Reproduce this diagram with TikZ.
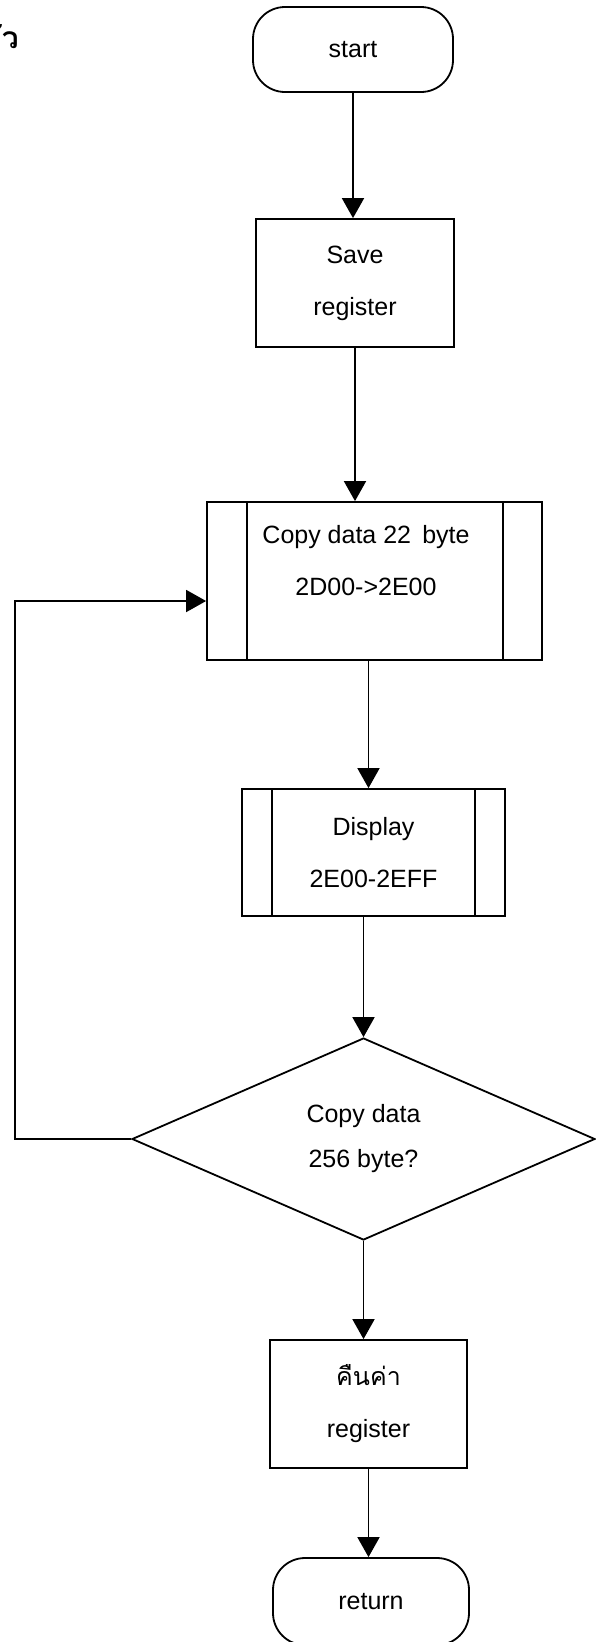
\documentclass[tikz,border=0pt]{standalone}
\usepackage{fontspec}
\setmainfont{Liberation Sans}
\newfontfamily\thaifont[Script=Thai]{Loma}
\usetikzlibrary{shapes.geometric,arrows.meta,calc}
\begin{document}
\begin{tikzpicture}[x=1pt,y=-1pt,
  every node/.style={font=\fontsize{25}{52}\selectfont, inner sep=0pt},
  ln/.style={line width=1.8pt},
  term/.style={draw, ln, rounded corners=32pt, align=center},
  proc/.style={draw, ln, align=center},
  dec/.style={draw, ln, diamond, align=center},
  arr/.style={ln, -{Triangle[length=20pt,width=22pt]}},
  lbl/.style={align=center}]
\useasboundingbox (0,0) rectangle (595,1642);

% header fragment
\node[anchor=base east, font=\fontsize{30}{36}\selectfont\thaifont\bfseries] (hd) at (19,48) {ัว};

% nodes
\node[term, minimum width=200pt, minimum height=85pt] (start) at (353,49.5) {\raisebox{-9pt}{start}};
\node[proc, minimum width=198pt, minimum height=128pt] (save) at (355,283) {Save\\register};
\node[proc, minimum width=335pt, minimum height=158pt] (copy) at (374.5,581) {};
\node[lbl] (copytxt) at (366,561) {Copy data 22\ \,byte\\2D00->2E00};
\node[proc, minimum width=263pt, minimum height=127pt] (disp) at (373.5,852.5) {Display\\2E00-2EFF};
\node[dec, minimum width=463pt, minimum height=202pt, font=\fontsize{25}{45}\selectfont] (dia) at (363.5,1139) {Copy data\\256 byte?};
\node[proc, minimum width=197pt, minimum height=128pt] (rest) at (368.5,1404) {{\thaifont คืนค่า}\\register};
\node[term, minimum width=196pt, minimum height=87pt] (ret) at (371,1601.5) {return};

% predefined-process side bars
\draw[ln] ([xshift=41pt]copy.north west) -- ([xshift=41pt]copy.south west);
\draw[ln] ([xshift=-40pt]copy.north east) -- ([xshift=-40pt]copy.south east);
\draw[ln] ([xshift=31pt]disp.north west) -- ([xshift=31pt]disp.south west);
\draw[ln] ([xshift=-31pt]disp.north east) -- ([xshift=-31pt]disp.south east);

% connectors
\draw[arr] (start.south) -- (start.south |- save.north);
\draw[arr] (save.south) -- (save.south |- copy.north);
\draw[arr] ([xshift=-6pt]copy.south) -- ([xshift=-6pt]copy.south |- disp.north);
\draw[arr] (disp.south -| dia.north) -- (dia.north);
\draw[arr] (dia.south) -- (dia.south |- rest.north);
\draw[arr] (rest.south) -- (rest.south |- ret.north);
\coordinate (lc) at (15,1139);
\draw[arr] (dia.west) -- (lc) |- ([yshift=-20pt]copy.west);
\end{tikzpicture}
\end{document}
